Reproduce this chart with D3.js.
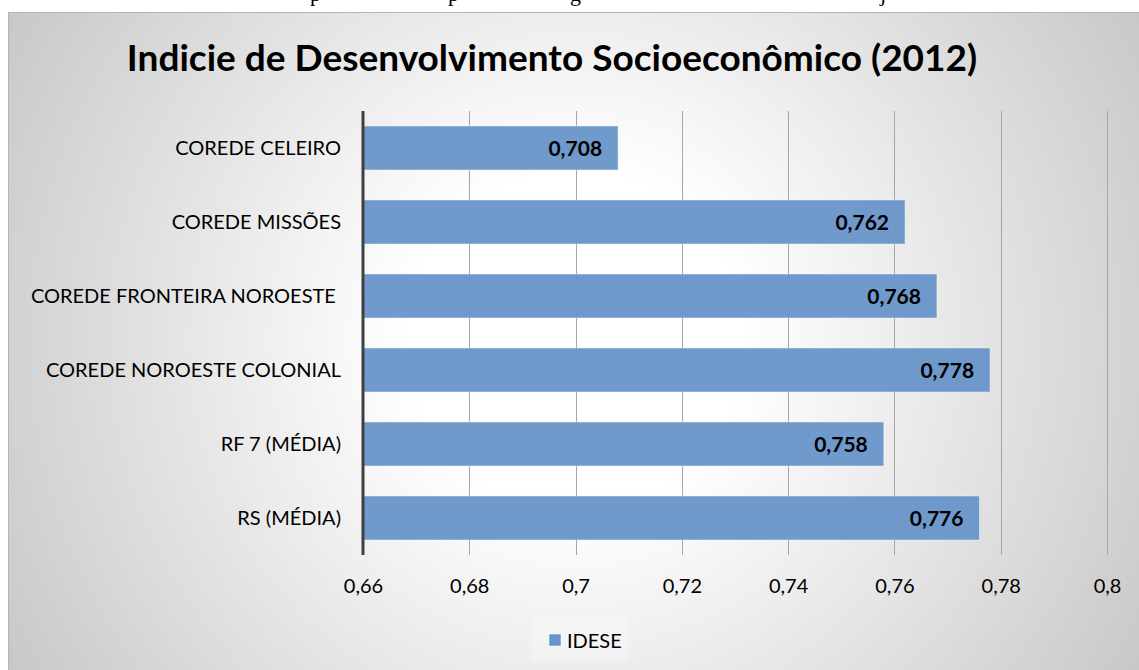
<!DOCTYPE html>
<html lang="pt">
<head>
	<meta charset="UTF-8"/>
	<title>IDESE 2012</title>
	<script src="https://d3js.org/d3.v7.min.js"></script>
	<style>
		body { margin:0; background:#fff; }
		svg { display:block; }
	</style>
</head>
<body>
<script>
	// ---- data ----
	var categories = ["COREDE CELEIRO", "COREDE MISSÕES", "COREDE FRONTEIRA NOROESTE ",
	                  "COREDE NOROESTE COLONIAL", "RF 7 (MÉDIA)", "RS (MÉDIA)"];
	var idese = [0.708, 0.762, 0.768, 0.778, 0.758, 0.776];
	var xTicks = [0.66, 0.68, 0.7, 0.72, 0.74, 0.76, 0.78, 0.8];
	var seriesName = "IDESE";
	var title = "Indicie de Desenvolvimento Socioeconômico (2012)";

	var w = 1139;
	var h = 670;
	var font = "Lato, 'Open Sans', sans-serif";
	var barColor = "#6795c8";

	var pt = d3.formatLocale({decimal: ",", thousands: ".", grouping: [3], currency: ["R$", ""]});
	var tickFmt = pt.format(".2~f");
	var valFmt = pt.format(".3f");

	var svg = d3.select("body")
				.append("svg")
				.attr("width", w)
				.attr("height", h);

	var defs = svg.append("defs");
	var grad = defs.append("radialGradient")
				.attr("id", "bg")
				.attr("gradientUnits", "userSpaceOnUse")
				.attr("cx", 575).attr("cy", 340).attr("r", 760);
	grad.append("stop").attr("offset", "0.22").attr("stop-color", "#ffffff");
	grad.append("stop").attr("offset", "1").attr("stop-color", "#bcbcbc");

	//------------ caption above the chart, cut by the page edge (only descenders show) ----
	var cap = svg.append("g")
				.attr("font-family", "'Liberation Serif', 'Times New Roman', serif")
				.attr("font-size", 22);
	[["p", 310], ["p", 448], ["g", 570], ["j", 880]].forEach(function(d) {
		cap.append("text").attr("x", d[1]).attr("y", 1).text(d[0]);
	});

	//------------ chart area -------------
	svg.append("rect")
		.attr("x", 8.5).attr("y", 12.5)
		.attr("width", w).attr("height", h)
		.attr("fill", "url(#bg)")
		.attr("stroke", "#b4b4b4")
		.attr("stroke-width", 1);

	svg.append("text")
		.attr("x", 552)
		.attr("y", 71)
		.attr("text-anchor", "middle")
		.attr("font-family", font)
		.attr("font-weight", "bold")
		.attr("font-size", 37)
		.attr("fill", "#000")
		.text(title);

	var xScale = d3.scaleLinear()
				.domain([0.66, 0.8])
				.range([363, 1107]);

	var yScale = d3.scaleBand()
				.domain(categories)
				.range([111, 555])
				.paddingInner(0.405)
				.paddingOuter(0.2025);

	// gridlines
	svg.append("g")
		.selectAll("line")
		.data(xTicks.slice(1))
		.enter()
		.append("line")
		.attr("x1", function(d) { return Math.round(xScale(d)) + 0.5; })
		.attr("x2", function(d) { return Math.round(xScale(d)) + 0.5; })
		.attr("y1", 111)
		.attr("y2", 555)
		.attr("stroke", "#a6a6a6")
		.attr("stroke-width", 1);

	// bars
	svg.append("g")
		.selectAll("rect")
		.data(idese)
		.enter()
		.append("rect")
		.attr("x", xScale(0.66))
		.attr("y", function(d, i) { return yScale(categories[i]); })
		.attr("width", function(d) { return xScale(d) - xScale(0.66); })
		.attr("height", yScale.bandwidth())
		.attr("fill", barColor)
		.attr("fill-opacity", 0.95)
		.attr("stroke", "rgba(255,255,255,0.45)")
		.attr("stroke-width", 1);

	// value labels
	svg.append("g")
		.selectAll("text")
		.data(idese)
		.enter()
		.append("text")
		.attr("x", function(d) { return xScale(d) - 16; })
		.attr("y", function(d, i) { return yScale(categories[i]) + yScale.bandwidth() / 2; })
		.attr("dy", "0.36em")
		.attr("text-anchor", "end")
		.attr("font-family", font)
		.attr("font-weight", "bold")
		.attr("font-size", 21)
		.attr("fill", "#000")
		.text(function(d) { return valFmt(d); });

	// category axis
	var yAxis = d3.axisLeft(yScale).tickSize(0).tickPadding(22);
	var gy = svg.append("g")
		.attr("transform", "translate(363,0)")
		.call(yAxis);
	gy.select(".domain").remove();
	gy.selectAll("text")
		.attr("font-family", font)
		.attr("font-size", 20)
		.attr("fill", "#000")
		.attr("dy", "0.36em")
		.style("white-space", "pre");

	svg.append("line")
		.attr("x1", 363).attr("x2", 363)
		.attr("y1", 111).attr("y2", 555)
		.attr("stroke", "#404040")
		.attr("stroke-width", 3);

	// value axis labels
	var xAxis = d3.axisBottom(xScale)
				.tickValues(xTicks)
				.tickFormat(tickFmt)
				.tickSize(0)
				.tickPadding(24);
	var gx = svg.append("g")
		.attr("transform", "translate(0,555)")
		.call(xAxis);
	gx.select(".domain").remove();
	gx.selectAll("text")
		.attr("font-family", font)
		.attr("font-size", 20)
		.attr("fill", "#000");

	//------------ legend -------------
	var lg = svg.append("g");
	lg.append("rect")
		.attr("x", 531).attr("y", 617)
		.attr("width", 98).attr("height", 45)
		.attr("fill", "#ffffff").attr("fill-opacity", 0.25);
	lg.append("rect")
		.attr("x", 549).attr("y", 634)
		.attr("width", 12).attr("height", 12)
		.attr("fill", barColor)
		.attr("stroke", "rgba(255,255,255,0.5)");
	lg.append("text")
		.attr("x", 567).attr("y", 648)
		.attr("font-family", font)
		.attr("font-size", 20)
		.attr("fill", "#000")
		.text(seriesName);
</script>
</body>
</html>
